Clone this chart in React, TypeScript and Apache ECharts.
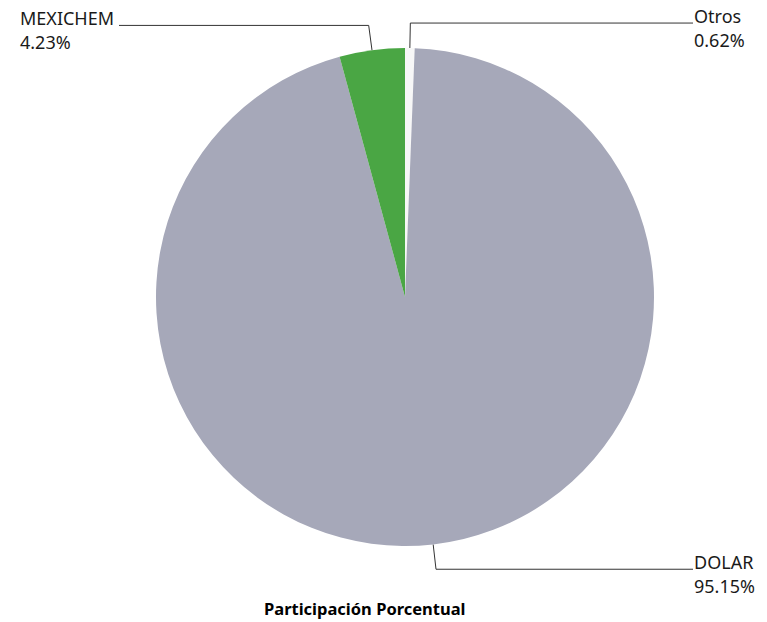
import React, { useEffect, useRef } from "react";
import * as echarts from "echarts";

const categories = ["Otros", "DOLAR", "MEXICHEM"];
const values = [0.62, 95.15, 4.23];
const colors = ["#f7f7f7", "#a6a8b9", "#4aa644"];
const titleText = "Participación Porcentual";

const W = 767;
const H = 622;
const CX = 405;
const CY = 297;
const R = 249;
const LINE1 = 25;
const LEFT_LINE_END = 119;
const RIGHT_LINE_END = 693;

export default function App() {
  const ref = useRef<HTMLDivElement>(null);
  useEffect(() => {
    document.body.style.margin = "0";
    if (!ref.current) return;
    const chart = echarts.init(ref.current, null, { renderer: "svg" });
    const total = values.reduce((a, b) => a + b, 0);
    let acc = 0;
    const data = categories.map((name, i) => {
      const mid = (acc + values[i] / 2) / total;
      acc += values[i];
      const theta = mid * Math.PI * 2;
      const x2 = CX + (R + LINE1) * Math.sin(theta);
      const rightSide = mid < 0.5;
      return {
        name,
        value: values[i],
        itemStyle: { color: colors[i] },
        labelLine: {
          length2: rightSide ? RIGHT_LINE_END - x2 : x2 - LEFT_LINE_END,
        },
        label: rightSide
          ? {
              edgeDistance: 17,
              formatter: (p: any) => `{t|${p.name}}\n{t|${p.value.toFixed(2)}%}`,
            }
          : {
              edgeDistance: 20,
              formatter: (p: any) => `${p.name}\n${p.value.toFixed(2)}%`,
            },
      };
    });
    chart.setOption({
      animation: false,
      backgroundColor: "#ffffff",
      textStyle: { fontFamily: "Noto Sans" },
      title: {
        text: titleText,
        left: 259,
        top: 595,
        textStyle: {
          fontFamily: "Noto Sans",
          fontSize: 16.5,
          fontWeight: "bold",
          color: "#000000",
        },
      },
      series: [
        {
          type: "pie",
          center: [CX, CY],
          radius: R,
          startAngle: 90,
          clockwise: true,
          avoidLabelOverlap: false,
          data,
          label: {
            show: true,
            position: "outside",
            alignTo: "edge",
            fontFamily: "Noto Sans",
            fontSize: 18,
            lineHeight: 24,
            color: "#1a1a1a",
            padding: [10, 0, 0, 0],
            rich: {
              t: {
                width: 56,
                align: "left",
                fontFamily: "Noto Sans",
                fontSize: 18,
                lineHeight: 24,
                color: "#1a1a1a",
              },
            },
          },
          labelLine: {
            show: true,
            length: LINE1,
            length2: 20,
            lineStyle: { color: "#333333", width: 1 },
          },
          emphasis: { disabled: true },
        },
      ],
    });
    return () => chart.dispose();
  }, []);
  return <div ref={ref} style={{ width: W, height: H }} />;
}
